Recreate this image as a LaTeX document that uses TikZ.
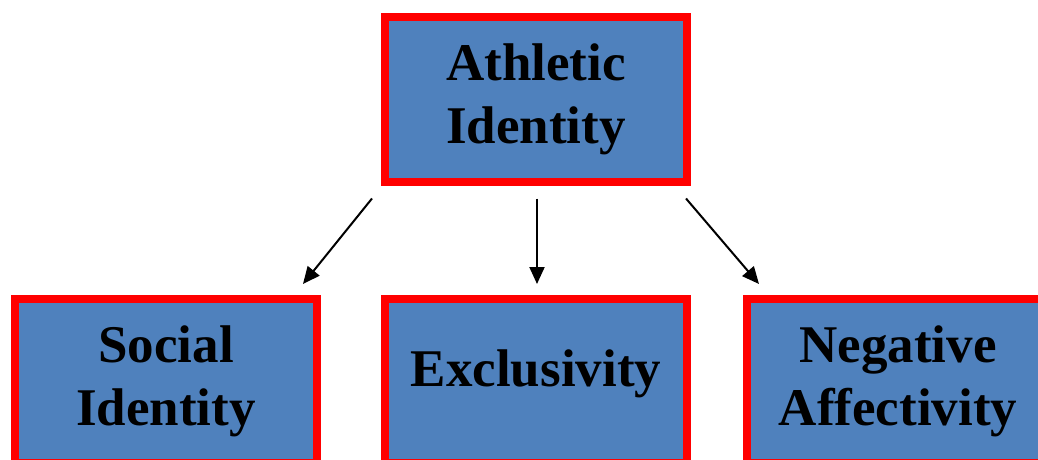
\documentclass[tikz,border=0pt]{standalone}
\usepackage{fontspec}
\setmainfont{Liberation Serif}
\usetikzlibrary{arrows.meta}
\definecolor{boxblue}{RGB}{79,129,189}
\begin{document}
\begin{tikzpicture}[
    x=1pt,
    y=1pt,
    box/.style={draw=red,line width=8pt,fill=boxblue,
        minimum width=302pt,minimum height=164pt,inner sep=0pt,
        align=center,font=\fontsize{53}{63}\selectfont\bfseries},
    link/.style={line width=2pt,-{Triangle[length=17pt,width=15pt]}}
]

\useasboundingbox (0,0) rectangle (1038,459);

% -------------------------------------------------
% Blocks
% -------------------------------------------------

\node[box] (athletic)    at (536,359.5) {Athletic\\Identity};

\node[box] (social)      at (166,78)    {Social\\Identity};
\node[box,text depth=26pt] (exclusivity) at (536,78) {Exclusivity};
\node[box] (negative)    at (898,78)    {Negative\\Affectivity};

% -------------------------------------------------
% Arrow ends
% -------------------------------------------------

\coordinate (s1) at ([xshift=-164pt,yshift=-13pt]athletic.south);
\coordinate (s2) at ([xshift=1pt,yshift=-13pt]athletic.south);
\coordinate (s3) at ([xshift=150pt,yshift=-13pt]athletic.south);

\coordinate (e1) at ([xshift=-18pt,yshift=11pt]social.north east);
\coordinate (e2) at ([xshift=1pt,yshift=11pt]exclusivity.north);
\coordinate (e3) at ([xshift=16pt,yshift=11pt]negative.north west);

% -------------------------------------------------
% Arrows
% -------------------------------------------------

\draw[link] (s1) -- (e1);
\draw[link] (s2) -- (e2);
\draw[link] (s3) -- (e3);

\end{tikzpicture}
\end{document}
